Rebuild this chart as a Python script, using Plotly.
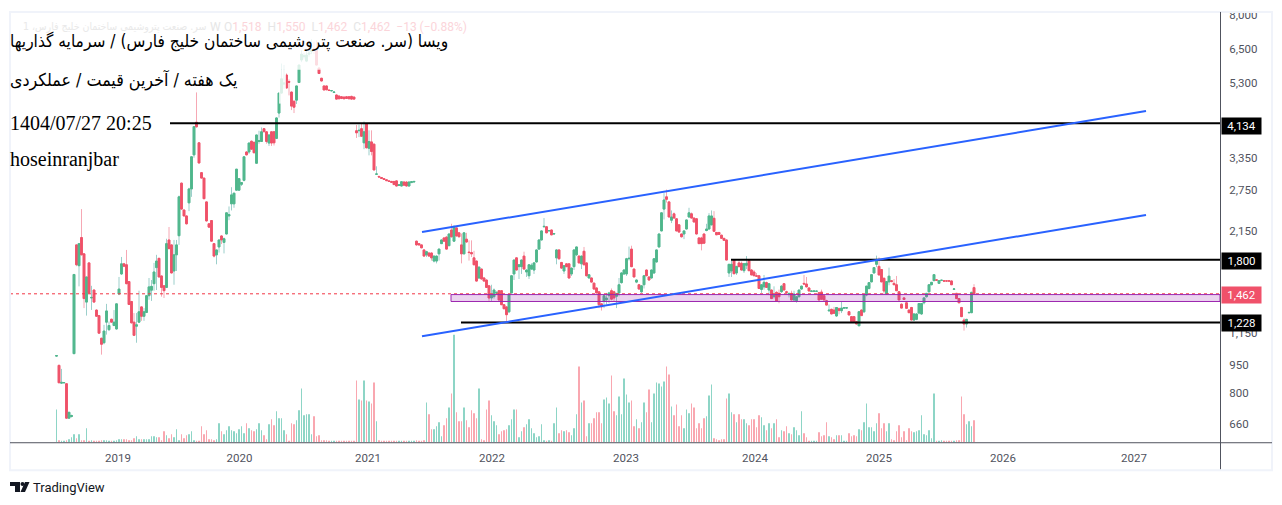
import math
import plotly.graph_objects as go

# weekly candles (open, high, low, close)
candles_2018 = [
 (1000,1005,995,1003),(945,950,850,850),(848,925,845,852),(850,851,849,851),(845,845,685,685),(685,712,685,710),
 (692,700,688,696),(1015,1645,1015,1645),(1970,1975,1730,1745),(1735,1985,1530,1985),(2060,2450,1850,1854),
 (1865,1870,1340,1420),(1390,1620,1280,1620),(1765,1770,1460,1470),(1425,1535,1325,1430),(1496,1500,1385,1390),
 (1324,1330,1270,1275),(1280,1285,1150,1150),(1115,1118,1009,1075),(1085,1210,1075,1165),(1230,1375,1140,1317),
 (1175,1235,1165,1205),(1252,1256,1228,1230),(1205,1324,1200,1230),
]
candles_2019 = [
 (1180,1375,1175,1375),(1460,1620,1450,1505),(1650,1830,1640,1755),(1755,1765,1720,1730),(1745,1910,1550,1555),
 (1575,1580,1365,1370),(1395,1400,1220,1225),(1230,1300,1130,1135),(1200,1300,1085,1210),(1230,1490,1225,1310),
 (1350,1355,1240,1275),(1275,1340,1240,1310),(1305,1445,1300,1445),(1445,1610,1410,1525),(1495,1590,1400,1530),
 (1555,1765,1490,1670),(1715,1854,1496,1785),(1815,1820,1615,1620),(1630,1635,1437,1520),(1535,1540,1425,1490),
 (1520,2045,1515,1985),(2030,2197,1920,1925),(1970,1975,1655,1660),(1680,2030,1545,1854),(1854,2030,1680,1970),
 (2083,2660,1970,2640),(2870,2880,2440,2450),(2436,2445,2345,2350),(2350,2355,2230,2240),(2545,2790,2420,2770),
 (2770,3380,2640,3370),(3410,4060,3350,4050),(4160,4990,4030,4045),(3670,3680,3240,3245),(3060,3070,2955,2960),
 (2960,2965,2610,2610),(2560,2565,2270,2280),(2240,2250,2190,2195),(2285,2290,2010,2015),(1985,1990,1825,1840),
 (1854,1910,1750,1910),(1945,2030,1880,2030),(2080,2090,1980,2030),(2000,2060,1870,2045),(2105,2395,2100,2395),
 (2350,2490,2290,2370),(2530,2800,2430,2672),(2530,2700,2470,2700),(2750,3125,2750,3125),
]
candles_2020 = [
 (2750,2955,2750,2950),(2850,2880,2820,2880),(2920,3380,2900,3370),(3470,3490,3400,3410),(3470,3670,3430,3665),
 (3705,3720,3520,3530),(3680,3700,3440,3455),(3240,3850,3240,3850),(3700,3950,3650,3720),(3700,4030,3690,3925),
 (4000,4010,3900,3930),(3925,3930,3650,3700),(3665,3860,3600,3850),(3925,3930,3600,3665),(3925,3940,3610,3670),
 (3770,4290,3770,4270),(4400,4970,4280,4970),(4970,5950,4950,5420),(5250,5900,5100,5280),(5548,5600,5120,5125),
 (5330,5400,4900,5310),(5000,5020,4480,4590),(4730,4740,4400,4560),(4760,5190,4650,5190),(5300,5896,5300,5896),
 (6080,6450,6000,6300),(6200,6350,6100,6240),(6040,6500,6000,6268),(6300,6800,6200,6340),(6400,6900,6300,6450),
 (6500,6800,6300,6450),(6450,6850,5890,5896),(5790,5800,5580,5600),(5440,5450,5340,5350),(5190,5200,5060,5065),
 (5190,5200,5060,5070),(5060,5070,5040,5050),(5040,5060,5020,5045),(4990,5010,4980,5000),(4912,4920,4780,4790),
 (4880,4900,4790,4800),(4860,4880,4790,4810),(4850,4870,4790,4800),(4860,4880,4800,4810),(4860,4880,4790,4800),
 (4870,4890,4780,4790),(4850,4860,4780,4790),
]
candles_2021 = [
 (3950,4090,3780,3900),(3950,4100,3800,3960),(4000,4130,3820,3820),(3670,4180,3530,3925),(4115,4134,3550,3560),
 (3550,3960,3400,3700),(3690,3960,3400,3480),(3640,3650,3107,3110),(3030,3180,3020,3035),(2990,3000,2975,2980),
 (2970,2980,2950,2955),(2950,2960,2930,2935),(2930,2940,2910,2915),(2910,2920,2895,2900),(2900,2910,2880,2885),
 (2900,2905,2840,2845),(2910,2920,2815,2820),(2830,2850,2820,2840),(2820,2900,2815,2895),(2890,2900,2830,2835),
 (2890,2900,2815,2820),(2820,2895,2815,2890),(2880,2900,2875,2895),(2890,2905,2885,2900),
 (2015,2020,1960,1970),(1985,1990,1965,1970),(1970,1975,1930,1935),(1910,1915,1835,1840),(1854,1900,1830,1890),
 (1875,1880,1835,1840),(1875,1880,1790,1820),(1785,1845,1770,1840),(1785,1845,1760,1840),(1865,1925,1790,1920),
 (1985,2035,1985,2030),(2055,2060,2010,2015),(2065,2080,1915,1920),(1960,2110,1960,2105),(2157,2240,2060,2070),
 (2015,2220,2010,2200),(2185,2190,2075,2080),(2120,2125,2060,2070),(1970,2110,1760,1865),(1865,2125,1860,2120),
 (2040,2120,1995,2005),(1885,2025,1790,1880),(1880,2025,1830,1865),(1820,1900,1740,1745),(1785,1790,1575,1580),
 (1610,1725,1600,1720),(1700,1705,1595,1600),(1610,1620,1575,1580),(1590,1595,1515,1520),(1535,1540,1400,1425),
]
candles_2022 = [
 (1425,1545,1400,1450),(1437,1510,1420,1496),(1470,1480,1460,1475),(1490,1495,1400,1408),(1490,1495,1365,1368),
 (1368,1372,1330,1335),(1350,1355,1226,1287),(1310,1460,1300,1454),(1470,1640,1465,1632),(1650,1800,1590,1796),
 (1820,1825,1685,1690),(1725,1750,1600,1745),(1725,1800,1650,1796),(1840,1890,1695,1700),(1670,1695,1620,1690),
 (1632,1750,1600,1745),(1700,1760,1690,1740),(1690,1770,1650,1765),(1775,1915,1770,1910),(1920,2035,1915,2030),
 (2030,2150,2025,2145),(2200,2320,2190,2205),(2200,2205,2115,2120),(2145,2155,2140,2150),(2157,2160,2090,2094),
 (2105,2115,2100,2110),
 (1820,1920,1750,1910),(1910,1915,1800,1810),(1770,1775,1700,1710),(1680,1740,1650,1735),(1755,1760,1720,1725),
 (1755,1760,1600,1610),(1650,1715,1630,1710),(1725,1915,1690,1910),(1854,1950,1840,1945),(1840,1845,1760,1765),
 (1755,1845,1700,1840),(1895,1945,1740,1745),(1765,1770,1625,1632),(1610,1645,1605,1642),(1610,1615,1565,1570),
 (1560,1565,1500,1505),(1515,1520,1465,1470),(1480,1485,1340,1368),(1375,1380,1320,1350),(1400,1450,1340,1445),
 (1410,1470,1370,1425),(1445,1480,1380,1470),(1490,1510,1405,1415),(1480,1490,1400,1425),(1440,1470,1340,1465),
 (1470,1610,1440,1545),(1565,1670,1555,1660),(1650,1700,1640,1690),
]
candles_2023 = [
 (1650,1820,1630,1810),(1810,1950,1790,1815),(1920,1960,1720,1725),(1700,1705,1615,1620),(1570,1595,1560,1590),
 (1545,1550,1500,1505),(1480,1540,1470,1535),(1545,1640,1510,1632),(1690,1695,1628,1632),(1620,1625,1585,1590),
 (1610,1695,1605,1690),(1660,1815,1650,1810),(1775,1915,1770,1910),(1945,2110,1940,2105),(2145,2400,2140,2395),
 (2450,2700,2300,2590),(2640,2760,2550,2600),(2560,2570,2330,2335),(2290,2430,2250,2335),(2380,2400,2315,2320),
 (2310,2320,2140,2145),(2226,2235,2125,2130),(2105,2110,2060,2070),(2105,2150,2040,2145),(2170,2300,2165,2293),
 (2335,2470,2325,2395),(2380,2400,2315,2320),(2320,2325,2260,2265),(2310,2315,2100,2105),(2055,2060,1980,1985),
 (2055,2070,1905,1985),(2105,2110,1985,1990),(2150,2240,2140,2170),(2170,2390,2165,2350),(2225,2430,2225,2350),
 (2317,2420,2135,2140),(2125,2130,2095,2095),(2125,2130,2095,2100),(2090,2095,2050,2050),(2050,2055,2025,2025),
 (2030,2035,1796,1796),(1660,1750,1620,1750),(1680,1790,1620,1750),(1796,1800,1652,1652),(1660,1728,1640,1728),
 (1765,1800,1720,1725),(1760,1780,1683,1690),(1683,1757,1660,1757),(1740,1840,1700,1760),(1790,1800,1683,1683),
 (1690,1700,1640,1640),
]
candles_2024 = [
 (1670,1690,1630,1632),(1632,1660,1625,1628),(1632,1640,1510,1510),(1502,1545,1470,1545),(1525,1640,1500,1568),
 (1565,1575,1520,1520),(1496,1555,1450,1555),(1496,1500,1420,1420),(1436,1530,1420,1445),(1475,1485,1395,1395),
 (1466,1500,1380,1436),(1481,1540,1470,1532),(1555,1560,1496,1496),(1480,1490,1470,1475),(1455,1470,1430,1466),
 (1466,1490,1408,1408),(1408,1490,1400,1460),(1402,1440,1385,1436),(1436,1496,1430,1496),(1505,1535,1500,1532),
 (1558,1640,1550,1552),(1552,1620,1520,1525),(1515,1520,1487,1487),(1484,1488,1480,1487),(1484,1488,1480,1487),
 (1484,1488,1480,1486),(1472,1480,1408,1408),(1478,1500,1414,1414),(1445,1450,1408,1408),(1402,1410,1365,1365),
 (1318,1370,1310,1323),(1330,1335,1293,1293),(1324,1350,1298,1298),(1277,1345,1270,1345),(1335,1345,1290,1320),
 (1319,1395,1300,1340),(1340,1345,1338,1343),(1340,1345,1338,1343),(1311,1315,1285,1285),(1272,1275,1234,1234),
 (1272,1275,1234,1234),(1234,1240,1216,1216),(1203,1311,1203,1311),(1324,1330,1280,1280),(1310,1451,1300,1451),
 (1451,1532,1440,1532),(1510,1568,1500,1565),(1572,1643,1570,1643),(1660,1715,1655,1715),(1750,1845,1720,1790),
]
candles_2025 = [
 (1728,1825,1640,1640),(1695,1700,1572,1572),(1607,1615,1460,1487),(1460,1575,1455,1575),(1572,1715,1540,1628),
 (1584,1590,1575,1575),(1558,1600,1545,1545),(1545,1630,1490,1490),(1481,1485,1408,1408),(1372,1380,1340,1340),
 (1426,1430,1408,1412),(1384,1390,1338,1338),(1324,1330,1303,1303),(1345,1350,1246,1246),(1246,1300,1240,1293),
 (1251,1300,1245,1293),(1300,1378,1290,1378),(1293,1378,1285,1378),(1384,1426,1370,1426),(1436,1466,1430,1466),
 (1480,1545,1475,1545),(1545,1568,1540,1568),(1584,1643,1580,1643),(1592,1595,1586,1588),(1558,1590,1555,1584),
 (1586,1590,1580,1588),(1582,1585,1578,1580),(1582,1585,1578,1580),(1582,1585,1578,1580),(1581,1585,1545,1545),
 (1503,1508,1502,1506),(1466,1470,1420,1420),(1420,1425,1384,1384),(1345,1350,1272,1272),(1246,1260,1168,1216),
 (1216,1255,1190,1251),(1303,1310,1295,1305),(1303,1480,1300,1475),(1518,1550,1462,1462),
]

# weekly volume, in arbitrary units
vol_2018 = [33,2,1,1,2,3,5,8,4,8,2,2,14,1,2,1,1,1,2,2,2,1,1,1]
vol_2019 = [2,3,3,3,3,2,2,4,6,3,3,3,3,3,6,6,5,5,2,11,7,4,8,5,13,2,8,4,7,8,11,2,1,1,16,8,12,3,3,2,3,19,11,8,12,16,12,11,9,13]
vol_2020 = [16,9,19,14,12,11,13,19,12,7,3,18,23,17,31,24,24,12,8,1,19,18,22,32,54,27,28,28,8,26,6,7,2,2,2,1,1,1,1,1,1,1,1,1,1,1]
vol_2021 = [62,43,42,62,42,41,39,60,21,2,1,1,1,1,1,1,1,1,1,1,1,1,1,1,2,1,1,2,
            40,28,13,13,16,20,6,17,24,35,49,108,30,21,21,35,22,15,32,29,24,54,3,2,33,42]
vol_2022 = [27,21,17,8,11,12,13,17,23,33,33,5,11,15,18,23,14,9,5,6,18,2,1,2,1,19,35,9,12,11,12,10,7,14,28,76,40,42,6,19,19,24,30,30,19,43,45,39,67,31,27,46,28,64]
vol_2023 = [48,40,42,16,23,14,20,40,30,53,20,49,60,59,56,61,76,68,36,27,38,16,27,14,33,29,39,35,14,19,14,24,26,47,
            58,4,3,2,3,3,44,49,30,28,20,28,23,23,19,17,23]
vol_2024 = [23,15,27,25,17,12,19,14,19,23,5,12,11,16,9,8,15,12,7,31,9,5,1,1,1,1,10,6,7,20,6,5,3,7,7,7,1,1,9,6,7,6,13,12,20,39,15,15,11,19,29]
vol_2025 = [14,19,11,19,3,2,11,17,5,11,2,14,11,10,11,12,27,8,7,12,4,49,1,1,2,1,1,1,1,1,2,2,46,28,18,21,16,22]

year_labels = ["2019", "2020", "2021", "2022", "2023", "2024", "2025", "2026", "2027"]
year_ticks = [24.6, 73.2, 124.6, 174.2, 227.8, 279.4, 329.0, 378.6, 431.0]
price_ticks = [660, 800, 950, 1150, 2150, 2750, 3350, 5300, 6500, 8000]

level_4134 = 4134
level_1800 = 1800
level_1228 = 1228
last_price = 1462
zone = (1395, 1455)
upper_channel = ((146.2, 2130), (435.8, 4454))
lower_channel = ((146.2, 1129), (435.8, 2365))

candles = (candles_2018 + candles_2019 + candles_2020 + candles_2021 +
           candles_2022 + candles_2023 + candles_2024 + candles_2025)
volumes = (vol_2018 + vol_2019 + vol_2020 + vol_2021 +
           vol_2022 + vol_2023 + vol_2024 + vol_2025)
assert len(candles) == 368 and len(volumes) == 368, (len(candles), len(volumes))

W, H = 1282, 505
LEFT, RIGHT, TOP, BOTTOM = 10, 1220, 8, 442
FIRST_BAR_PX, BAR_PX = 56.5, 2.5
px = lambda x: x / W
py = lambda y: 1 - y / H
idx = lambda x: (x - FIRST_BAR_PX) / BAR_PX
# log price scale: 8000 sits at y=15, 377.5 px per decade
price_at = lambda y: 8000 * 10 ** (-(y - 15) / 377.5)

UP, DOWN = "#4fb78b", "#ef5168"
UP_WICK, DOWN_WICK = "#9ccfcb", "#f6a8b4"
UP_VOL, DOWN_VOL = "#8dd5c6", "#f9a7b0"
XR = [idx(LEFT), idx(RIGHT)]

xs = list(range(len(candles)))
o = [c[0] for c in candles]
h = [c[1] for c in candles]
l = [c[2] for c in candles]
c_ = [c[3] for c in candles]

fig = go.Figure()
fig.add_trace(go.Bar(x=xs, y=volumes, yaxis="y2", width=0.4,
                     marker=dict(color=[UP_VOL if c_[i] >= o[i] else DOWN_VOL for i in xs], line_width=0),
                     hoverinfo="skip", showlegend=False))
fig.add_trace(go.Candlestick(x=xs, open=o, high=h, low=l, close=c_, showlegend=False,
    increasing=dict(line=dict(color=UP_WICK, width=1), fillcolor=UP_WICK),
    decreasing=dict(line=dict(color=DOWN_WICK, width=1), fillcolor=DOWN_WICK)))
fig.add_trace(go.Candlestick(x=xs, open=o, close=c_, showlegend=False,
    high=[max(a, b) for a, b in zip(o, c_)], low=[min(a, b) for a, b in zip(o, c_)],
    increasing=dict(line=dict(color=UP, width=1), fillcolor=UP),
    decreasing=dict(line=dict(color=DOWN, width=1), fillcolor=DOWN)))

def line(xv, yv, color, width, dash="solid"):
    fig.add_trace(go.Scatter(x=xv, y=yv, mode="lines", showlegend=False, hoverinfo="skip",
                             line=dict(color=color, width=width, dash=dash)))

line(XR, [last_price, last_price], "#f23645", 1, "dot")
fig.add_trace(go.Scatter(x=[idx(451), XR[1], XR[1], idx(451), idx(451)],
                         y=[zone[1], zone[1], zone[0], zone[0], zone[1]],
                         mode="lines", fill="toself", fillcolor="rgba(156,39,176,0.2)",
                         line=dict(color="#9c27b0", width=1), showlegend=False, hoverinfo="skip"))
line([idx(170), XR[1]], [level_4134] * 2, "#000000", 2)
line([idx(731), XR[1]], [level_1800] * 2, "#000000", 2)
line([idx(461), XR[1]], [level_1228] * 2, "#000000", 2)
for ch in (upper_channel, lower_channel):
    line([ch[0][0], ch[1][0]], [ch[0][1], ch[1][1]], "#2962ff", 2)

shapes = [
    dict(type="rect", xref="paper", yref="paper", x0=px(LEFT), x1=px(1219), y0=py(68), y1=py(11),
         fillcolor="white", opacity=0.8, line_width=0, layer="above"),
    dict(type="rect", xref="paper", yref="paper", x0=px(279), x1=px(286), y0=py(102), y1=py(68),
         fillcolor="white", opacity=0.8, line_width=0, layer="above"),
    dict(type="rect", xref="paper", yref="paper", x0=px(10), x1=px(1272), y0=py(470), y1=py(10),
         line=dict(color="#f0f3fa", width=2), layer="above"),
    dict(type="line", xref="paper", yref="paper", x0=px(10), x1=px(1272), y0=py(442.5), y1=py(442.5),
         line=dict(color="#50535e", width=1), layer="above"),
    dict(type="line", xref="paper", yref="paper", x0=px(1220.5), x1=px(1220.5), y0=py(469), y1=py(10),
         line=dict(color="#50535e", width=1), layer="above"),
    # TradingView mark
    dict(type="path", xref="paper", yref="paper", line_width=0, fillcolor="#131722",
         path=f"M{px(10)},{py(482)} L{px(20)},{py(482)} L{px(20)},{py(492)} L{px(15)},{py(492)} L{px(15)},{py(486)} L{px(10)},{py(486)} Z"),
    dict(type="circle", xref="paper", yref="paper", line_width=0, fillcolor="#131722",
         x0=px(20.5), x1=px(24.5), y0=py(486), y1=py(482)),
    dict(type="path", xref="paper", yref="paper", line_width=0, fillcolor="#131722",
         path=f"M{px(25)},{py(482)} L{px(29.5)},{py(482)} L{px(25)},{py(492)} L{px(20.5)},{py(492)} Z"),
]

SERIF = "Liberation Serif, serif"
SANS = "DejaVu Sans Condensed, DejaVu Sans, sans-serif"
def note(text, x, y, size, color="#000000", family=SANS, anchor="left", **kw):
    return dict(text=text, xref="paper", yref="paper", x=px(x), y=py(y), xanchor=anchor, yanchor="middle",
                showarrow=False, font=dict(size=size, color=color, family=family), **kw)

def price_tag(text, y, bg):
    return dict(text=text, xref="paper", yref="paper", x=px(1221), y=py(y), xanchor="left", yanchor="middle",
                showarrow=False, width=39, height=16, bgcolor=bg, borderpad=0, align="center",
                font=dict(size=11.5, color="white", family="Roboto, sans-serif"))

annotations = [
    note("سر. صنعت پتروشیمی ساختمان خلیج فارس، 1", 208, 25, 10.5, "#e9e9e9", anchor="right"),
    note("W", 208, 25, 12, "#e6e6e6", "Roboto"),
    note("O<span style='color:#fbd5da'>1,518</span>  H<span style='color:#fbd5da'>1,550</span>  "
         "L<span style='color:#fbd5da'>1,462</span>  C<span style='color:#fbd5da'>1,462</span>  "
         "<span style='color:#fbd5da'>−13 (−0.88%)</span>", 222, 25, 12, "#e6e6e6", "Roboto"),
    note("ویسا (سر. صنعت پتروشیمی ساختمان خلیج فارس) / سرمایه گذاریها", 450, 40, 17.2, anchor="right"),
    note("یک هفته / آخرین قیمت / عملکردی", 239, 78, 17.7, anchor="right"),
    note("1404/07/27 20:25", 8, 121, 20, family=SERIF),
    note("hoseinranjbar", 8, 158, 20, family=SERIF),
    note("TradingView", 31, 487, 13, "#131722", "Roboto, sans-serif"),
    price_tag("4,134", 124, "#000000"),
    price_tag("1,800", 260, "#000000"),
    price_tag("1,462", 294.5, "#f0516a"),
    price_tag("1,228", 322, "#000000"),
]

fig.update_layout(
    width=W, height=H, margin=dict(l=0, r=0, t=0, b=0),
    paper_bgcolor="white", plot_bgcolor="rgba(0,0,0,0)", showlegend=False,
    boxmode="overlay", boxgap=0.3, boxgroupgap=0,
    hovermode=False, shapes=shapes, annotations=annotations, barmode="overlay",
    xaxis=dict(domain=[px(LEFT), px(RIGHT)], range=XR, showgrid=False, zeroline=False, showline=False,
               tickmode="array", tickvals=year_ticks, ticktext=year_labels, ticks="outside", ticklen=5,
               tickcolor="rgba(0,0,0,0)", tickfont=dict(size=11.5, color="#50535e", family="Roboto, sans-serif"),
               rangeslider=dict(visible=False), fixedrange=True, anchor="y"),
    yaxis=dict(domain=[py(BOTTOM), py(TOP)], type="log",
               range=[math.log10(price_at(BOTTOM)), math.log10(price_at(TOP + 2))],
               side="right", anchor="x", showgrid=False, zeroline=False, showline=False, tickmode="array",
               tickvals=price_ticks, ticktext=[f"{v:,}" for v in price_ticks], ticks="outside", ticklen=6,
               tickcolor="rgba(0,0,0,0)", tickfont=dict(size=11.5, color="#50535e", family="Roboto, sans-serif"),
               fixedrange=True),
    yaxis2=dict(domain=[py(BOTTOM), py(330)], range=[0, 112], visible=False, fixedrange=True, anchor="x"),
)

fig.write_html("out.html", config=dict(displayModeBar=False),
               post_script="document.body.style.margin='0';document.body.style.overflow='hidden';")
